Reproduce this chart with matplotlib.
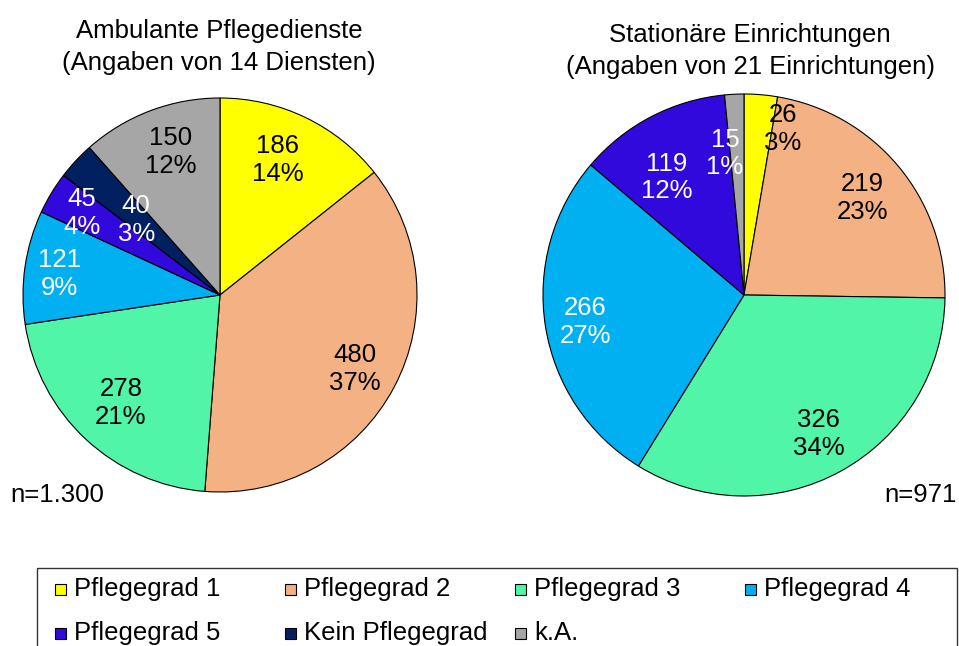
import matplotlib
matplotlib.use("Agg")
import matplotlib.pyplot as plt
from matplotlib.patches import Rectangle
import numpy as np

plt.rcParams['font.family'] = ['Liberation Sans', 'DejaVu Sans']

# ---------------- data ----------------
categories = ["Pflegegrad 1", "Pflegegrad 2", "Pflegegrad 3", "Pflegegrad 4",
              "Pflegegrad 5", "Kein Pflegegrad", "k.A."]
ambulant_values = [186, 480, 278, 121, 45, 40, 150]
stationaer_values = [26, 219, 326, 266, 119, 0, 15]
ambulant_title = "Ambulante Pflegedienste\n(Angaben von 14 Diensten)"
stationaer_title = "Stationäre Einrichtungen\n(Angaben von 21 Einrichtungen)"
ambulant_n = "n=1.300"
stationaer_n = "n=971"

# ---------------- style ----------------
colors = ["#FFFF00", "#F4B183", "#50F5A8", "#00B0F0", "#3209DC", "#002060", "#A6A6A6"]
label_colors = ["black", "black", "black", "white", "white", "white", "black"]
label_colors_st = ["black", "black", "black", "white", "white", "white", "white"]
# label radial distance (fraction of radius) and angular offset (deg) per slice
amb_label_r = [0.745, 0.78, 0.745, 0.82, 0.815, 0.57, 0.77]
amb_label_da = [2.5, -0.7, 0.4, 0.6, 0.3, 1.2, -1.7]
st_label_r = [0.85, 0.76, 0.785, 0.80, 0.70, 0.7, 0.71]
st_label_da = [-8.3, -0.4, -0.4, 0.6, 5.7, 0.0, 4.9]

W, H = 959, 646
FS = 18.5


def pct_largest_remainder(values):
    v = np.array(values, dtype=float)
    raw = v / v.sum() * 100
    fl = np.floor(raw).astype(int)
    rem = raw - fl
    need = 100 - fl.sum()
    order = np.argsort(-rem)
    for i in order[:need]:
        fl[i] += 1
    return fl


def draw_pie(cx, cy, r, values, lab_r, lab_da, lab_cols):
    ax = fig.add_axes([(cx - r) / W, (H - cy - r) / H, 2 * r / W, 2 * r / H])
    idx = [i for i, v in enumerate(values) if v > 0]
    vals = [values[i] for i in idx]
    cols = [colors[i] for i in idx]
    wedges, _ = ax.pie(vals, colors=cols, startangle=90, counterclock=False,
                       radius=1.0,
                       wedgeprops=dict(edgecolor="black", linewidth=0.8))
    for w in wedges:
        w.set_clip_on(False)
    pcts = pct_largest_remainder(vals)
    for k, (w, i) in enumerate(zip(wedges, idx)):
        mid = (w.theta1 + w.theta2) / 2 + lab_da[i]
        x = lab_r[i] * np.cos(np.radians(mid))
        y = lab_r[i] * np.sin(np.radians(mid))
        ax.text(x, y, f"{values[i]}\n{pcts[k]}%", ha="center", va="center",
                fontsize=FS, color=lab_cols[i], linespacing=1.2)
    ax.set_xlim(-1, 1)
    ax.set_ylim(-1, 1)
    ax.set_aspect("equal")
    ax.axis("off")
    return ax


fig = plt.figure(figsize=(W / 100, H / 100), dpi=100)

draw_pie(220, 295, 197, ambulant_values, amb_label_r, amb_label_da, label_colors)
draw_pie(744, 295, 201, stationaer_values, st_label_r, st_label_da, label_colors_st)

fig.text(219 / W, 1 - 47 / H, ambulant_title, ha="center", va="center",
         fontsize=FS, linespacing=1.45)
fig.text(750 / W, 1 - 51 / H, stationaer_title, ha="center", va="center",
         fontsize=FS, linespacing=1.45)

fig.text(10 / W, 1 - 495 / H, ambulant_n, ha="left", va="center", fontsize=FS)
fig.text(957 / W, 1 - 495 / H, stationaer_n, ha="right", va="center", fontsize=FS)

# ---------------- legend (Excel-style grid) ----------------
frame = Rectangle((37 / W, -20 / H), (957 - 37) / W, (646 - 568 + 20) / H,
                  transform=fig.transFigure, fill=False, edgecolor="#333333",
                  linewidth=1.0)
fig.patches.append(frame)
col_x = [55, 285, 515, 745]
row_y = [589, 633]
sq = 11
for i, name in enumerate(categories):
    r_, c_ = divmod(i, 4)
    x0 = col_x[c_]
    y0 = row_y[r_]
    fig.patches.append(Rectangle((x0 / W, (H - y0 - sq / 2) / H), sq / W, sq / H,
                                 transform=fig.transFigure, facecolor=colors[i],
                                 edgecolor="black", linewidth=0.8))
    fig.text((x0 + 19) / W, 1 - y0 / H, name, ha="left", va="center", fontsize=FS)

fig.savefig("out.png", dpi=100)
